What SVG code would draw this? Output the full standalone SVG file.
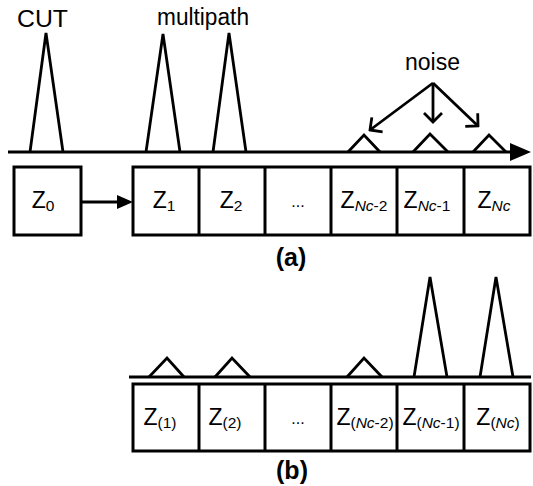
<svg xmlns="http://www.w3.org/2000/svg" width="533" height="486" viewBox="0 0 533 486">
<defs>
<style>
.ln{fill:none;stroke:#000;stroke-width:3;stroke-linejoin:miter}
.pk{fill:none;stroke:#000;stroke-width:2.8;stroke-linejoin:miter}
.bx{fill:#fff;stroke:#000;stroke-width:3}
.t{font-family:"Liberation Sans",Arial,sans-serif;font-size:23px;fill:#000}
.z{font-family:"Liberation Sans",Arial,sans-serif;font-size:23px;fill:#000;text-anchor:middle}
.s{font-size:15.5px}
.i{font-style:italic}
.lb{font-family:"Liberation Sans",Arial,sans-serif;font-size:25px;font-weight:bold;fill:#000;text-anchor:middle}
</style>
<marker id="open" viewBox="-12 -11 14 22" refX="0" refY="0" markerWidth="14" markerHeight="22" orient="auto" markerUnits="userSpaceOnUse">
<path d="M-9,-9 L0,0 L-9,9" fill="none" stroke="#000" stroke-width="2.8"/>
</marker>
</defs>

<g id="connectors">
<line class="ln" x1="8" y1="152" x2="512" y2="152"/>
<polygon points="510,143 531,152 510,161" fill="#000"/>
<line class="ln" x1="81" y1="202" x2="119" y2="202"/>
<polygon points="117,195 133,202 117,209" fill="#000"/>
<line class="pk" x1="433" y1="83" x2="370" y2="130" marker-end="url(#open)"/>
<line class="pk" x1="433" y1="83" x2="433" y2="122" marker-end="url(#open)"/>
<line class="pk" x1="433" y1="83" x2="478" y2="126" marker-end="url(#open)"/>
<line class="ln" x1="129" y1="377" x2="531" y2="377"/>
</g>

<g id="peaks-a">
<polyline class="pk" points="30,152 46,33 63,152"/>
<polyline class="pk" points="146,152 163,34 180,152"/>
<polyline class="pk" points="213,152 229,33 246,152"/>
<polyline class="pk" points="348,152 364,135 380,152"/>
<polyline class="pk" points="413,152 430,134 448,152"/>
<polyline class="pk" points="473,152 489,135 506,152"/>
</g>

<g id="labels-a">
<text class="t" x="17" y="27" textLength="51" lengthAdjust="spacingAndGlyphs">CUT</text>
<text class="t" x="157" y="25" textLength="92" lengthAdjust="spacingAndGlyphs">multipath</text>
<text class="t" x="405" y="70">noise</text>
</g>

<g id="z0">
<rect class="bx" x="14" y="167" width="67" height="68"/>
<text class="z" x="43" y="208">Z<tspan class="s" dy="3">0</tspan></text>
</g>

<g id="row-a">
<rect class="bx" x="133" y="167" width="397" height="68"/>
<line class="ln" x1="199" y1="167" x2="199" y2="235"/>
<line class="ln" x1="265" y1="167" x2="265" y2="235"/>
<line class="ln" x1="331" y1="167" x2="331" y2="235"/>
<line class="ln" x1="397" y1="167" x2="397" y2="235"/>
<line class="ln" x1="464" y1="167" x2="464" y2="235"/>
</g>
<g id="z1"><text class="z" x="164" y="208">Z<tspan class="s" dy="3">1</tspan></text></g>
<g id="z2"><text class="z" x="231" y="208">Z<tspan class="s" dy="3">2</tspan></text></g>
<g id="zdots"><text class="z" x="298" y="207" style="font-size:16px">...</text></g>
<g id="znc2"><text class="z" x="364" y="208">Z<tspan class="s" dy="3"><tspan class="i">Nc</tspan>-2</tspan></text></g>
<g id="znc1"><text class="z" x="427" y="208">Z<tspan class="s" dy="3"><tspan class="i">Nc</tspan>-1</tspan></text></g>
<g id="znc"><text class="z" x="494" y="208">Z<tspan class="s i" dy="3">Nc</tspan></text></g>

<text class="lb" x="291" y="266">(a)</text>

<g id="peaks-b">
<polyline class="pk" points="149,377 167,358 184,377"/>
<polyline class="pk" points="215,377 232,358 250,377"/>
<polyline class="pk" points="347,377 364,358 382,377"/>
<polyline class="pk" points="414,377 430,277 447,377"/>
<polyline class="pk" points="480,377 496,277 513,377"/>
</g>

<g id="row-b">
<rect class="bx" x="133" y="384" width="397" height="67"/>
<line class="ln" x1="199" y1="384" x2="199" y2="451"/>
<line class="ln" x1="265" y1="384" x2="265" y2="451"/>
<line class="ln" x1="331" y1="384" x2="331" y2="451"/>
<line class="ln" x1="397" y1="384" x2="397" y2="451"/>
<line class="ln" x1="464" y1="384" x2="464" y2="451"/>
</g>
<g id="zb1"><text class="z" x="160" y="425">Z<tspan class="s" dy="3">(1)</tspan></text></g>
<g id="zb2"><text class="z" x="225" y="425">Z<tspan class="s" dy="3">(2)</tspan></text></g>
<g id="zbdots"><text class="z" x="298" y="424" style="font-size:16px">...</text></g>
<g id="zbnc2"><text class="z" x="365" y="425">Z<tspan class="s" dy="3">(<tspan class="i">Nc</tspan>-2)</tspan></text></g>
<g id="zbnc1"><text class="z" x="431" y="425">Z<tspan class="s" dy="3">(<tspan class="i">Nc</tspan>-1)</tspan></text></g>
<g id="zbnc"><text class="z" x="498" y="425">Z<tspan class="s" dy="3">(<tspan class="i">Nc</tspan>)</tspan></text></g>

<text class="lb" x="292" y="479">(b)</text>
</svg>
